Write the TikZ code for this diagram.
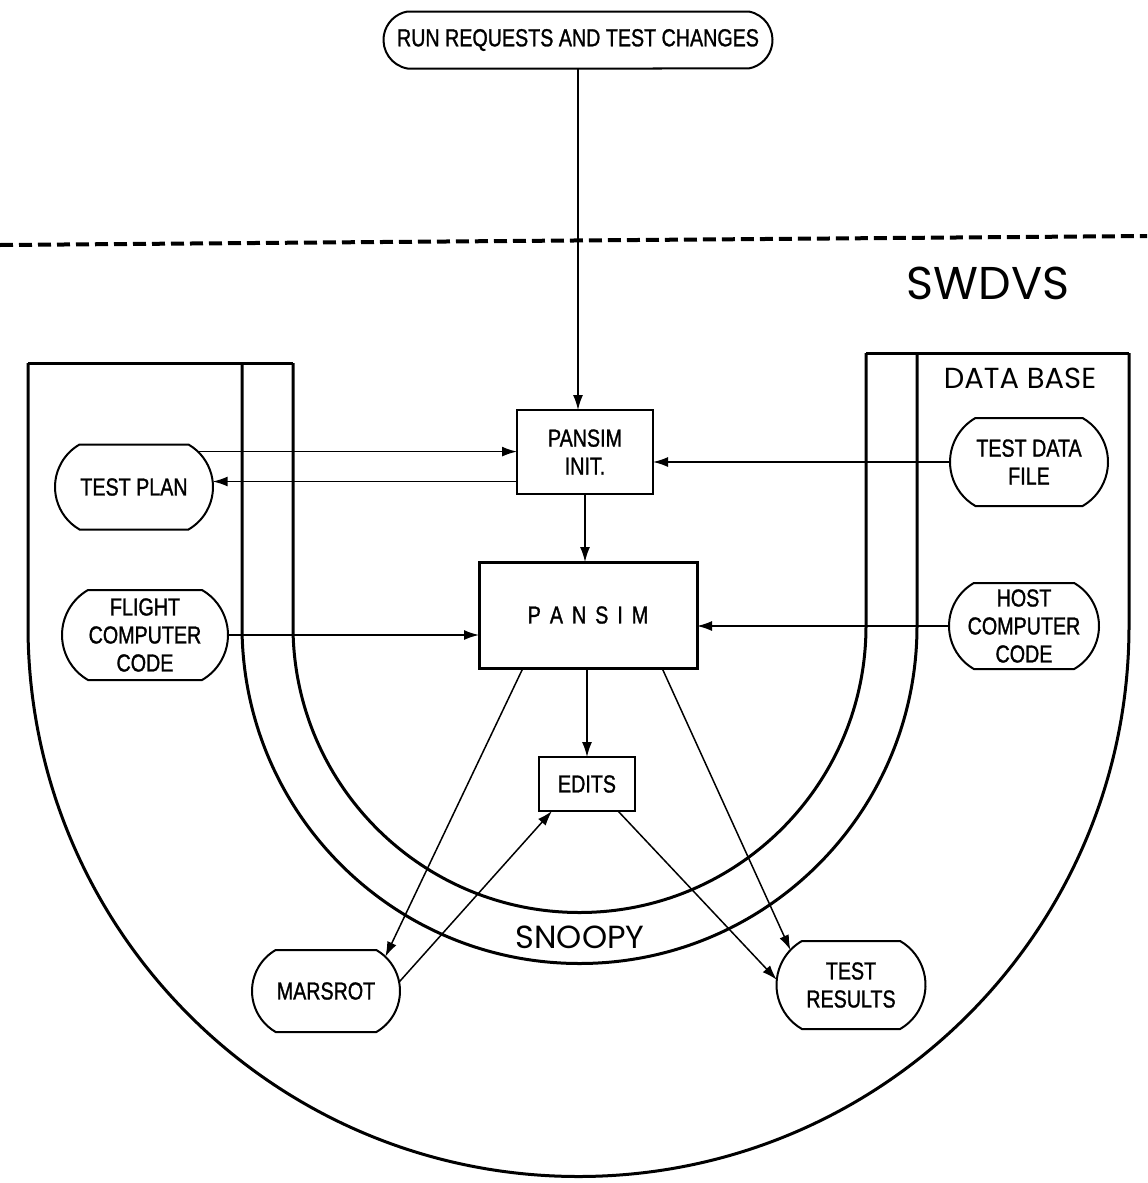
\documentclass[tikz,border=0pt]{standalone}
\usepackage{fontspec}
\setmainfont{Liberation Sans}
\newfontfamily\boxfont[FakeStretch=0.8,FakeBold=1.2]{Liberation Sans}
\newfontfamily\geofont{Poppins}
\usetikzlibrary{shapes.misc,arrows.meta}
\begin{document}
\begin{tikzpicture}[x=0.5pt,y=-0.5pt,
  lbl/.style={font=\boxfont\fontsize{12.3}{14}\selectfont, align=center, inner sep=0pt, outer sep=0pt},
  pill/.style={lbl, draw, line width=1pt, rounded rectangle, rounded rectangle arc length=120},
  box/.style={lbl, draw, line width=1pt, rectangle},
  arr/.style={line width=0.75pt, -{Latex[length=7.5pt,width=5pt]}},
  wall/.style={line width=1.5pt},
  bigtext/.style={inner sep=0pt}
]
\useasboundingbox (0,0) rectangle (1147,1183);

% dashed boundary
\draw[line width=2pt, dash pattern=on 6.5pt off 3pt] (0,245) -- (1147,236);

% U shapes
\draw[wall] (28,363) -- (293,363);
\draw[wall] (866,353) -- (1129,353);
\draw[wall] (28,363) -- (28,626) arc[start angle=180, end angle=0, radius=550.5] -- (1129,353);
\draw[wall] (242,363) -- (242,626) arc[start angle=180, end angle=0, radius=337.5] -- (917,353);
\draw[wall] (293,363) -- (293,626) arc[start angle=180, end angle=0, radius=286.5] -- (866,353);

% labels
\node[bigtext, font=\geofont\fontsize{23}{27}\selectfont] (swdvs) at (988,283) {SWDVS};
\node[bigtext, font=\geofont\fontsize{14.5}{17}\selectfont] (db) at (1020,378) {DATA BASE};
\node[bigtext, font=\geofont\fontsize{16}{19}\selectfont] (snoopy) at (580,937) {SNOOPY};

% nodes
\node[pill, rounded rectangle arc length=160, minimum width=194.5pt, minimum height=28.5pt] (top) at (578,40) {RUN REQUESTS AND TEST CHANGES};
\node[box, minimum width=68pt, minimum height=42pt] (init) at (585,452) {PANSIM\\INIT.};
\node[box, line width=1.5pt, minimum width=109pt, minimum height=53pt] (pansim) at (588,615) {P\kern4.5pt A\kern4.5pt N\kern4.5pt S\kern4.5pt I\kern4.5pt M};
\node[box, minimum width=48pt, minimum height=27pt] (edits) at (587,784) {EDITS};

\node[pill, minimum width=79pt, minimum height=42.5pt] (tp) at (134,487) {TEST PLAN};
\node[pill, minimum width=83pt, minimum height=45pt] (fcc) at (145,635) {FLIGHT\\COMPUTER\\CODE};
\node[pill, minimum width=79pt, minimum height=44pt] (tdf) at (1029,462) {TEST DATA\\FILE};
\node[pill, minimum width=75pt, minimum height=43pt] (hcc) at (1024,626) {HOST\\COMPUTER\\CODE};
\node[pill, minimum width=74pt, minimum height=41pt] (mr) at (326,991) {MARSROT};
\node[pill, minimum width=74.5pt, minimum height=44pt] (tr) at (851,985) {TEST\\RESULTS};

% connectors
\draw[arr] (top.south) -- (top.south |- init.north);
\draw[arr] (tp.29) -- (tp.29 -| init.west);
\draw[arr] (tp.4 -| init.west) -- (tp.4);
\draw[arr] (tdf.west) -- (tdf.west -| init.east);
\draw[arr] (init.south) -- (init.south |- pansim.north);
\draw[arr] (fcc.east) -- (fcc.east -| pansim.west);
\draw[arr] (hcc.west) -- (hcc.west -| pansim.east);
\draw[arr] (edits.north |- pansim.south) -- (edits.north);
\draw[arr] ([xshift=22pt]pansim.south west) -- (mr.30);
\draw[arr] (mr.7) -- ([xshift=6.5pt]edits.south west);
\draw[arr] ([xshift=-8.5pt]edits.south east) -- (tr.176);
\draw[arr] ([xshift=-17.5pt]pansim.south east) -- (tr.150);
\end{tikzpicture}
\end{document}
